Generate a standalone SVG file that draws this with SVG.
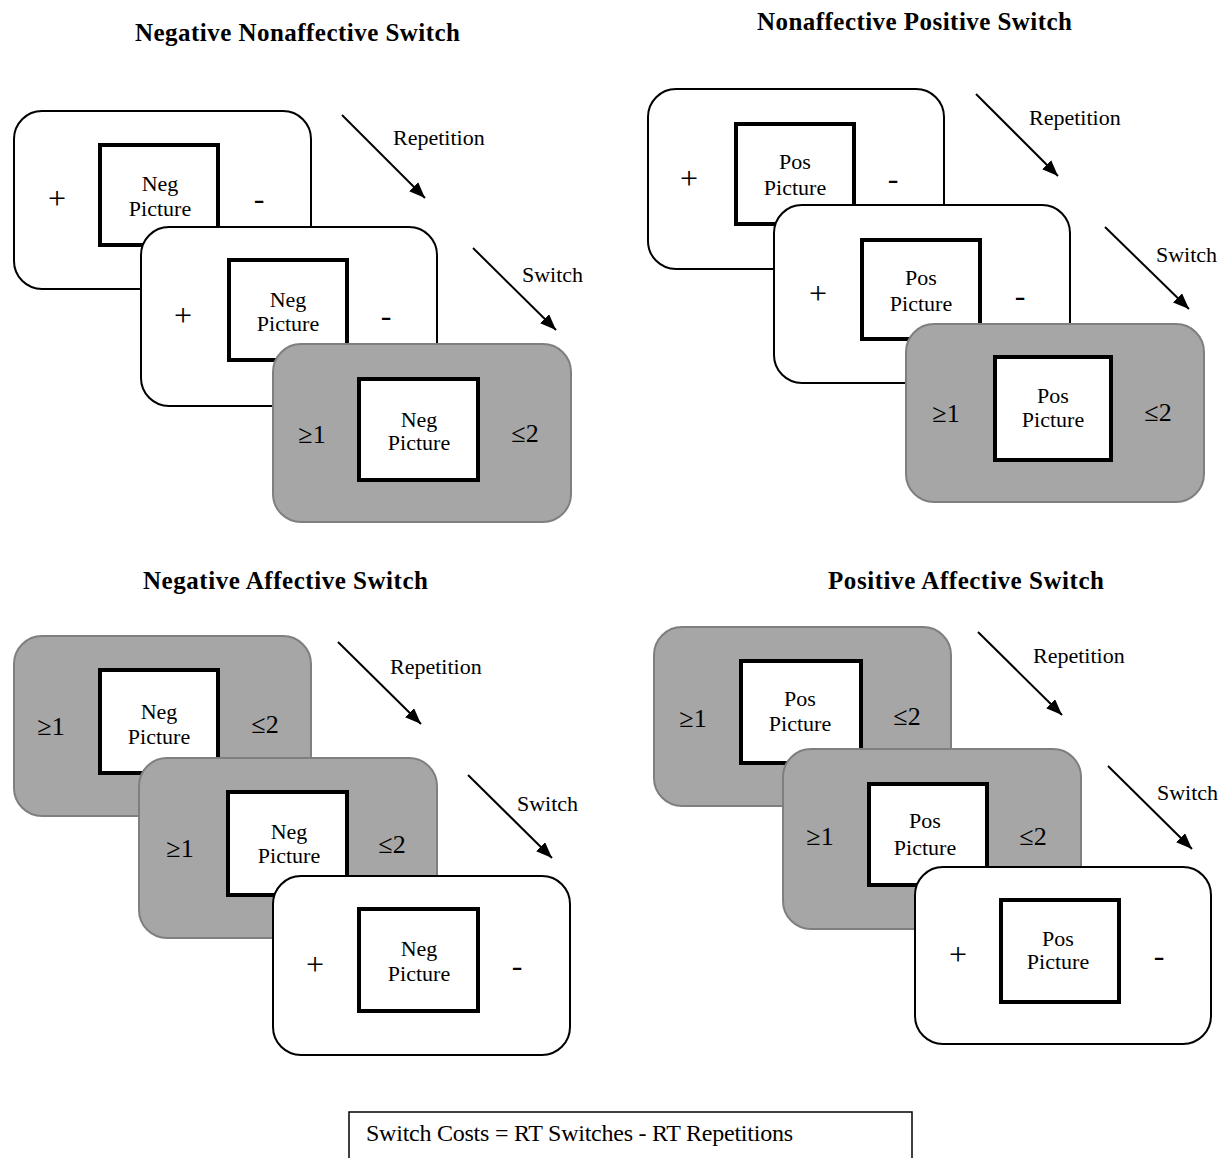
<svg xmlns="http://www.w3.org/2000/svg" width="1222" height="1158" viewBox="0 0 1222 1158">
  <defs>
    <marker id="arrowhead" viewBox="0 0 10 8" refX="10" refY="4" markerWidth="8" markerHeight="6.4" orient="auto" markerUnits="strokeWidth">
      <path d="M0,0 L10,4 L0,8 Z" fill="#000"/>
    </marker>
  </defs>
  <style>
    text { font-family: "Liberation Serif", "Times New Roman", serif; fill: #000; }
    .title { font-size: 25px; font-weight: bold; }
    .lbl { font-size: 22px; text-anchor: middle; }
    .sym { font-size: 32px; text-anchor: middle; }
    .rel { font-size: 26px; text-anchor: middle; }
    .flow { font-size: 22px; }
    .card-w { fill: #fff; stroke: #000; stroke-width: 2; }
    .card-g { fill: #a6a6a6; stroke: #7f7f7f; stroke-width: 2; }
    .pic { fill: #fff; stroke: #000; stroke-width: 4; }
    .conn line { stroke: #000; stroke-width: 2; marker-end: url(#arrowhead); }
  </style>
  <rect width="1222" height="1158" fill="#fff"/>

  <!-- Panel titles -->
  <text class="title" x="135" y="41" textLength="325" lengthAdjust="spacing">Negative Nonaffective Switch</text>
  <text class="title" x="757" y="30" textLength="315" lengthAdjust="spacing">Nonaffective Positive Switch</text>
  <text class="title" x="143" y="589" textLength="285" lengthAdjust="spacing">Negative Affective Switch</text>
  <text class="title" x="828" y="589" textLength="276" lengthAdjust="spacing">Positive Affective Switch</text>

  <!-- Negative nonaffective sequence -->
  <g id="neg-nonaff-1">
    <rect class="card-w" x="14" y="111" width="297" height="178" rx="28"/>
    <rect class="pic" x="100" y="145" width="118" height="100"/>
    <text class="sym" x="57" y="209">+</text>
    <text class="sym" x="259" y="209">-</text>
    <text class="lbl" x="160" y="191">Neg</text>
    <text class="lbl" x="160" y="216">Picture</text>
  </g>
  <g id="neg-nonaff-2">
    <rect class="card-w" x="141" y="227" width="296" height="179" rx="28"/>
    <rect class="pic" x="229" y="260" width="118" height="100"/>
    <text class="sym" x="183" y="326">+</text>
    <text class="sym" x="386" y="326">-</text>
    <text class="lbl" x="288" y="307">Neg</text>
    <text class="lbl" x="288" y="331">Picture</text>
  </g>
  <g id="neg-nonaff-3">
    <rect class="card-g" x="273" y="344" width="298" height="178" rx="28"/>
    <rect class="pic" x="359" y="379" width="119" height="101"/>
    <text class="rel" x="312" y="443">≥1</text>
    <text class="rel" x="525" y="442">≤2</text>
    <text class="lbl" x="419" y="427">Neg</text>
    <text class="lbl" x="419" y="450">Picture</text>
  </g>

  <!-- Nonaffective positive sequence -->
  <g id="nonaff-pos-1">
    <rect class="card-w" x="648" y="89" width="296" height="180" rx="28"/>
    <rect class="pic" x="736" y="124" width="118" height="100"/>
    <text class="sym" x="689" y="189">+</text>
    <text class="sym" x="893" y="189">-</text>
    <text class="lbl" x="795" y="169">Pos</text>
    <text class="lbl" x="795" y="195">Picture</text>
  </g>
  <g id="nonaff-pos-2">
    <rect class="card-w" x="774" y="205" width="296" height="178" rx="28"/>
    <rect class="pic" x="862" y="240" width="118" height="99"/>
    <text class="sym" x="818" y="304">+</text>
    <text class="sym" x="1020" y="306">-</text>
    <text class="lbl" x="921" y="285">Pos</text>
    <text class="lbl" x="921" y="311">Picture</text>
  </g>
  <g id="nonaff-pos-3">
    <rect class="card-g" x="906" y="324" width="298" height="178" rx="28"/>
    <rect class="pic" x="995" y="357" width="116" height="103"/>
    <text class="rel" x="946" y="422">≥1</text>
    <text class="rel" x="1158" y="421">≤2</text>
    <text class="lbl" x="1053" y="403">Pos</text>
    <text class="lbl" x="1053" y="427">Picture</text>
  </g>

  <!-- Negative affective sequence -->
  <g id="neg-aff-1">
    <rect class="card-g" x="14" y="636" width="297" height="180" rx="28"/>
    <rect class="pic" x="100" y="670" width="118" height="103"/>
    <text class="rel" x="51" y="735">≥1</text>
    <text class="rel" x="265" y="733">≤2</text>
    <text class="lbl" x="159" y="719">Neg</text>
    <text class="lbl" x="159" y="744">Picture</text>
  </g>
  <g id="neg-aff-2">
    <rect class="card-g" x="139" y="758" width="298" height="180" rx="28"/>
    <rect class="pic" x="228" y="792" width="119" height="103"/>
    <text class="rel" x="180" y="857">≥1</text>
    <text class="rel" x="392" y="853">≤2</text>
    <text class="lbl" x="289" y="839">Neg</text>
    <text class="lbl" x="289" y="863">Picture</text>
  </g>
  <g id="neg-aff-3">
    <rect class="card-w" x="273" y="876" width="297" height="179" rx="28"/>
    <rect class="pic" x="359" y="909" width="119" height="102"/>
    <text class="sym" x="315" y="975">+</text>
    <text class="sym" x="517" y="976">-</text>
    <text class="lbl" x="419" y="956">Neg</text>
    <text class="lbl" x="419" y="981">Picture</text>
  </g>

  <!-- Positive affective sequence -->
  <g id="pos-aff-1">
    <rect class="card-g" x="654" y="627" width="297" height="179" rx="28"/>
    <rect class="pic" x="741" y="661" width="120" height="102"/>
    <text class="rel" x="693" y="727">≥1</text>
    <text class="rel" x="907" y="725">≤2</text>
    <text class="lbl" x="800" y="706">Pos</text>
    <text class="lbl" x="800" y="731">Picture</text>
  </g>
  <g id="pos-aff-2">
    <rect class="card-g" x="783" y="749" width="298" height="180" rx="28"/>
    <rect class="pic" x="869" y="784" width="118" height="101"/>
    <text class="rel" x="820" y="845">≥1</text>
    <text class="rel" x="1033" y="845">≤2</text>
    <text class="lbl" x="925" y="828">Pos</text>
    <text class="lbl" x="925" y="855">Picture</text>
  </g>
  <g id="pos-aff-3">
    <rect class="card-w" x="915" y="867" width="296" height="177" rx="28"/>
    <rect class="pic" x="1001" y="900" width="118" height="102"/>
    <text class="sym" x="958" y="965">+</text>
    <text class="sym" x="1159" y="966">-</text>
    <text class="lbl" x="1058" y="946">Pos</text>
    <text class="lbl" x="1058" y="969">Picture</text>
  </g>

  <!-- Transition arrows -->
  <g id="connectors" class="conn">
    <line x1="342" y1="115" x2="425" y2="198"/>
    <line x1="473" y1="248" x2="556" y2="330"/>
    <line x1="976" y1="94" x2="1058" y2="176"/>
    <line x1="1105" y1="227" x2="1189" y2="309"/>
    <line x1="338" y1="642" x2="421" y2="724"/>
    <line x1="468" y1="775" x2="552" y2="858"/>
    <line x1="978" y1="632" x2="1062" y2="715"/>
    <line x1="1108" y1="766" x2="1192" y2="849"/>
  </g>
  <g id="arrow-labels">
    <text class="flow" x="393" y="145">Repetition</text>
    <text class="flow" x="522" y="282">Switch</text>
    <text class="flow" x="1029" y="125">Repetition</text>
    <text class="flow" x="1156" y="262">Switch</text>
    <text class="flow" x="390" y="674">Repetition</text>
    <text class="flow" x="517" y="811">Switch</text>
    <text class="flow" x="1033" y="663">Repetition</text>
    <text class="flow" x="1157" y="800">Switch</text>
  </g>

  <!-- Formula box -->
  <g id="formula">
    <rect x="349" y="1112" width="563" height="60" fill="#fff" stroke="#000" stroke-width="1.5"/>
    <text x="366" y="1141" font-size="24" textLength="427" lengthAdjust="spacing">Switch Costs = RT Switches - RT Repetitions</text>
  </g>
</svg>
